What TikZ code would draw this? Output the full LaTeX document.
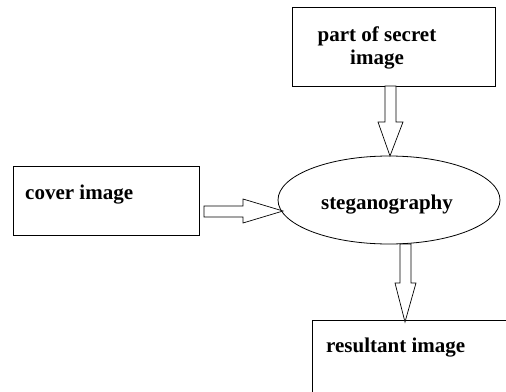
\documentclass[tikz,border=0pt]{standalone}
\usepackage{fontspec}
\setmainfont{Liberation Serif}
\usetikzlibrary{shapes.geometric}
\begin{document}
\begin{tikzpicture}[x=1pt,y=-1pt,
  box/.style={draw,line width=0.8pt,inner sep=0pt},
  lbl/.style={font=\fontsize{21}{23}\selectfont\bfseries,inner sep=0pt},
  blockarrow/.style={draw,line width=0.7pt,fill=white}]
\useasboundingbox (0,0) rectangle (506,391);
% boxes
\node[box,minimum width=203pt,minimum height=79pt] (secretbox) at (393.5,46.5) {};
\node[lbl,align=center] (secret) at (377,48) {part of secret\\image};
\node[box,minimum width=186pt,minimum height=69pt] (coverbox) at (106,200.5) {};
\node[lbl,anchor=west] (cover) at (25,195) {cover image};
\node[draw,ellipse,line width=0.8pt,minimum width=222pt,minimum height=88pt,inner sep=0pt] (steg) at (389,200) {};
\node[lbl] (steglbl) at (387,205) {steganography};
\draw[line width=0.8pt] (312,400) -- (312,320) -- (520,320);
\node[lbl,anchor=west] (result) at (326,348) {resultant image};
% block arrows
\draw[blockarrow] (385,86) -- (396,86) -- (396,122) -- (403,122) -- (390,156) -- (378,122) -- (385,122) -- cycle;
\draw[blockarrow] (204,206) -- (243,206) -- (243,199) -- (283,211) -- (243,223) -- (243,217) -- (204,217) -- cycle;
\draw[blockarrow] (400,244) -- (411,244) -- (411,283) -- (416,283) -- (405,322) -- (395,283) -- (400,283) -- cycle;
\end{tikzpicture}
\end{document}
